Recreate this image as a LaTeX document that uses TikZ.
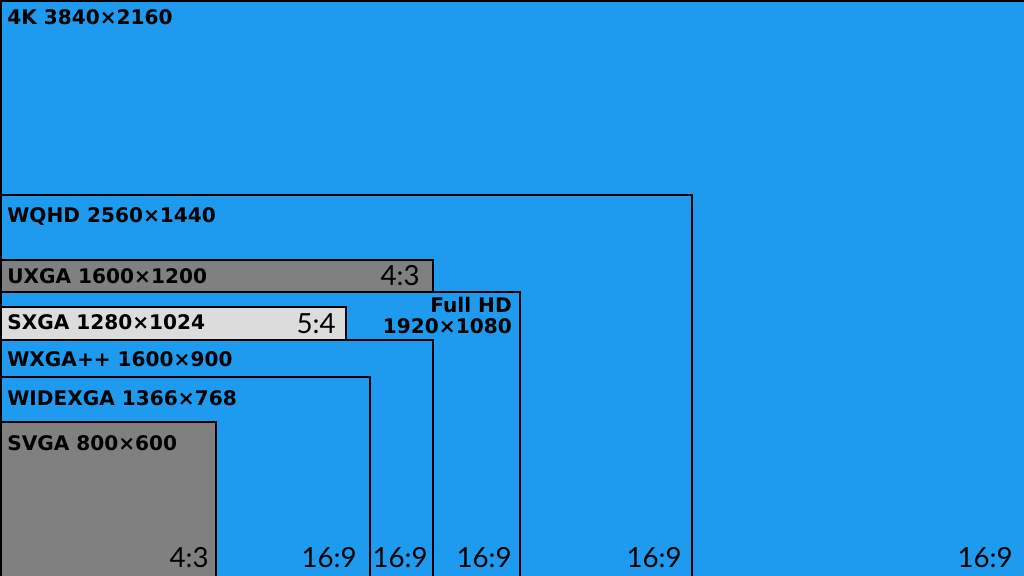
\documentclass[tikz,border=0pt]{standalone}
\usepackage{fontspec}
\usepackage[svgnames]{xcolor}
\newfontfamily\resfont{DejaVu Sans}
\newfontfamily\ratiofont{Lato}
\definecolor{screenblue}{HTML}{1E9BEE}
\definecolor{screengray}{HTML}{808080}
\definecolor{screenlight}{HTML}{DCDCDC}

\begin{document}
\begin{tikzpicture}[x=0.025cm, y=-0.025cm,
  screen/.style={draw=black, line width=2.1pt},
  res/.style={anchor=base west, inner sep=0pt, font=\resfont\bfseries\fontsize{14.3}{16}\selectfont},
  ratio/.style={anchor=base east, inner sep=0pt, font=\ratiofont\fontsize{19.7}{22}\selectfont}]
\useasboundingbox (0,0) rectangle (1024,576);
\clip (0,0) rectangle (1024,576);
% screens, biggest first
\draw[screen, fill=screenblue]  (0.5,1) rectangle (1100,650);
\draw[screen, fill=screenblue]  (0.5,195) rectangle (692,650);
\draw[screen, fill=screengray]  (0.5,260) rectangle (433,650);
\draw[screen, fill=screenblue]  (0.5,292) rectangle (520,650);
\draw[screen, fill=screenlight] (0.5,307) rectangle (346,650);
\draw[screen, fill=screenblue]  (0.5,340) rectangle (433,650);
\draw[screen, fill=screenblue]  (0.5,377) rectangle (370,650);
\draw[screen, fill=screengray]  (0.5,422) rectangle (216,650);
% names
\node[res] (uhd)    at (7,25)  {4K 3840×2160};
\node[res] (wqhd)   at (7,223) {WQHD 2560×1440};
\node[res] (uxga)   at (7,284) {UXGA 1600×1200};
\node[res] (sxga)   at (7,330) {SXGA 1280×1024};
\node[res] (wxgapp) at (7,366) {WXGA++ 1600×900};
\node[res] (widexga) at (7,405) {WIDEXGA 1366×768};
\node[res] (svga)   at (7,450) {SVGA 800×600};
\node[res, anchor=base east] (fhd)  at (512,313) {Full HD};
\node[res, anchor=base east] (fhdres) at (512,333) {1920×1080};
% aspect ratios
\node[ratio] (uxgaratio) at (420,286) {4:3};
\node[ratio] (sxgaratio) at (336,333) {5:4};
\node[ratio] (svgaratio) at (209,567) {4:3};
\node[ratio] (widexgaratio) at (357,567) {16:9};
\node[ratio] (wxgappratio) at (428,567) {16:9};
\node[ratio] (fhdratio) at (512,567) {16:9};
\node[ratio] (wqhdratio) at (682,567) {16:9};
\node[ratio] (uhdratio) at (1013,567) {16:9};
\end{tikzpicture}
\end{document}
